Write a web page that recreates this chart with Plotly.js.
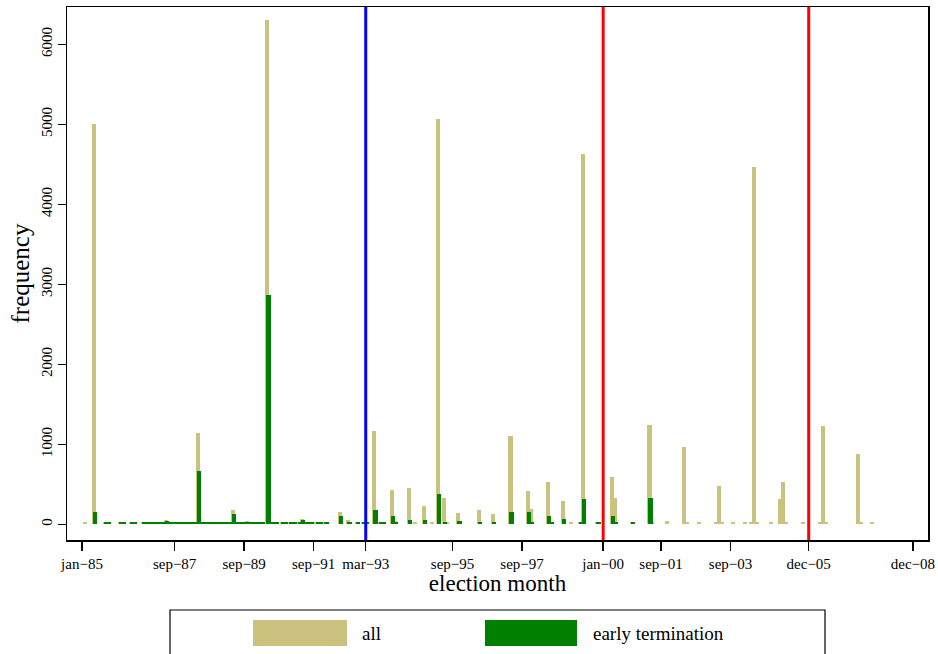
<!DOCTYPE html>
<html>
<head>
<meta charset="utf-8">
<script src="https://cdn.plot.ly/plotly-3.0.1.min.js"></script>
<style>html,body{margin:0;padding:0;background:#fff;}#chart{width:938px;height:654px;}</style>
</head>
<body>
<div id="chart"></div>
<script>
// months since jan-85 (0 = jan-85)
const months = [1,4,8,9,13,14,17,18,21,22,23,24,25,26,27,28,29,30,31,32,33,34,35,36,37,38,39,40,
  41,42,43,44,45,46,47,48,49,50,51,52,53,54,55,56,57,58,59,60,61,62,64,65,66,67,69,70,72,73,75,76,77,
  78,79,81,82,84,89,92,95,97,98,101,103,104,107,108,113,115,118,121,123,125,126,130,137,142,148,154,155,
  161,162,166,169,172,173,178,183,184,190,196,197,202,208,209,213,219,220,221,225,229,231,232,233,238,
  241,242,243,249,255,256,257,268,269,273];
const allValues = [30,5000,34,34,34,34,34,34,32,32,32,32,32,32,32,32,48,32,32,32,32,32,32,32,32,32,32,1145,
  32,32,32,32,32,32,32,32,32,32,32,173,32,32,32,32,40,30,30,30,30,30,6300,34,30,30,30,30,30,30,30,70,34,
  30,30,30,30,30,157,48,30,30,30,1172,30,30,424,38,449,30,232,30,5060,332,30,144,182,128,1100,420,194,
  532,30,294,30,30,4630,30,591,328,30,1247,38,38,967,28,28,28,482,28,28,28,30,4460,30,28,
  315,532,34,28,32,1234,32,883,28,28];
const earlyValues = [0,150,30,30,30,30,30,30,30,30,30,30,30,30,30,30,40,30,30,30,30,30,30,30,30,30,30,662,
  30,30,30,30,30,30,30,30,30,30,30,128,28,28,28,28,35,28,28,28,28,28,2870,30,28,28,28,28,28,28,28,48,30,
  28,28,28,28,28,107,35,28,28,28,182,25,25,107,25,56,0,56,0,374,30,0,40,35,28,153,148,25,
  98,25,65,0,25,315,25,98,30,25,332,0,0,0,0,0,0,0,0,0,0,0,0,0,0,
  0,0,0,0,0,0,0,0,0,0];
const tickMonths = [0,32,56,80,98,128,152,180,200,224,251,287];
const tickLabels = ['jan\u221285','sep\u221287','sep\u221289','sep\u221291','mar\u221293','sep\u221295',
  'sep\u221297','jan\u221200','sep\u221201','sep\u221203','dec\u221205','dec\u221208'];
const yTicks = [0,1000,2000,3000,4000,5000,6000];
const markerMonths = [98,180,251];
const markerColors = ['#0000ff','#ff0000','#ff0000'];
const seriesNames = ['all','early termination'];
const seriesColors = ['#cbc27f','#008000'];

const serif = 'Liberation Serif, Times New Roman, serif';

const traces = [
  {type:'bar', x:months, y:allValues, name:seriesNames[0], width:1.4,
   marker:{color:seriesColors[0], line:{width:0}}, showlegend:false},
  {type:'bar', x:months, y:earlyValues, name:seriesNames[1], width:1.5, offset:-0.35,
   marker:{color:seriesColors[1], line:{width:0}}, showlegend:false}
];

const shapes = markerMonths.map((m,i)=>({type:'line', xref:'x', yref:'paper', x0:m, x1:m, y0:0, y1:1,
  line:{color:markerColors[i], width:3}}));

// manual legend (paper coords; plot area 67..928 x 7..540)
const px = v => (v-67)/861, py = v => (540-v)/533;
shapes.push({type:'rect', xref:'paper', yref:'paper', x0:px(170), x1:px(825), y0:py(665), y1:py(610),
  line:{color:'#000', width:1.2}, fillcolor:'rgba(0,0,0,0)'});
shapes.push({type:'rect', xref:'paper', yref:'paper', x0:px(253), x1:px(347), y0:py(646), y1:py(620),
  line:{width:0}, fillcolor:seriesColors[0]});
shapes.push({type:'rect', xref:'paper', yref:'paper', x0:px(485), x1:px(577), y0:py(646), y1:py(620),
  line:{width:0}, fillcolor:seriesColors[1]});
const annotations = [
  {xref:'paper', yref:'paper', x:px(360), y:py(633), xanchor:'left', yanchor:'middle', showarrow:false,
   text:seriesNames[0], font:{family:serif, size:19, color:'#000'}},
  {xref:'paper', yref:'paper', x:px(591), y:py(633), xanchor:'left', yanchor:'middle', showarrow:false,
   text:seriesNames[1], font:{family:serif, size:19, color:'#000'}}
];

const layout = {
  width:938, height:654,
  margin:{l:67, r:10, t:7, b:114},
  paper_bgcolor:'#fff', plot_bgcolor:'#fff',
  barmode:'overlay', bargap:0,
  font:{family:serif, color:'#000'},
  xaxis:{range:[-5.18,292.2], tickvals:tickMonths, ticktext:tickLabels, ticks:'outside', ticklen:9,
    tickwidth:1.5, tickcolor:'#000', showline:true, linecolor:'#000', linewidth:1.5, mirror:true,
    showgrid:false, zeroline:false, tickfont:{family:serif, size:15},
    title:{text:'election month', font:{family:serif, size:23}, standoff:0}, automargin:false},
  yaxis:{range:[-196,6466], tickvals:yTicks, ticks:'outside', ticklen:8, tickwidth:1.5, tickcolor:'#000',
    showline:true, linecolor:'#000', linewidth:1.5, mirror:true, showgrid:false, zeroline:false,
    tickangle:-90, tickfont:{family:serif, size:15},
    title:{text:'frequency', font:{family:serif, size:25}, standoff:2}, automargin:false},
  shapes:shapes, annotations:annotations, showlegend:false
};

Plotly.newPlot('chart', traces, layout, {staticPlot:true, displayModeBar:false});
</script>
</body>
</html>
